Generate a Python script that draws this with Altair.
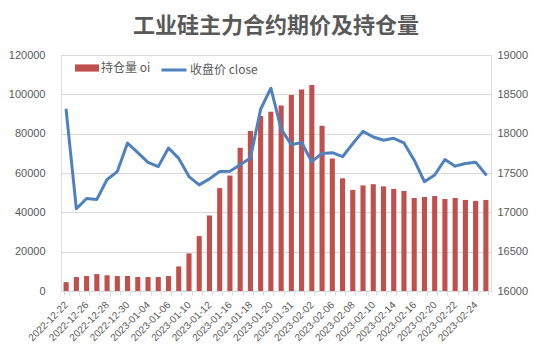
import altair as alt
import pandas as pd

dates = ["2022-12-22", "2022-12-23", "2022-12-26", "2022-12-27", "2022-12-28", "2022-12-29",
         "2022-12-30", "2023-01-03", "2023-01-04", "2023-01-05", "2023-01-06", "2023-01-09",
         "2023-01-10", "2023-01-11", "2023-01-12", "2023-01-13", "2023-01-16", "2023-01-17",
         "2023-01-18", "2023-01-19", "2023-01-20", "2023-01-30", "2023-01-31", "2023-02-01",
         "2023-02-02", "2023-02-03", "2023-02-06", "2023-02-07", "2023-02-08", "2023-02-09",
         "2023-02-10", "2023-02-13", "2023-02-14", "2023-02-15", "2023-02-16", "2023-02-17",
         "2023-02-20", "2023-02-21", "2023-02-22", "2023-02-23", "2023-02-24", "2023-02-27"]

oi = [4500, 7100, 7600, 8600, 8000, 7600, 7600, 7100, 7100, 7100, 7600, 12500,
      19100, 27900, 38400, 52300, 58700, 72800, 81400, 89000, 91200, 94300,
      99600, 102500, 104700, 84000, 67400, 57300, 51400, 53700, 54300, 53200,
      51900, 50900, 47300, 47800, 48300, 46800, 47300, 46300, 45800, 46300]

close = [18302, 17045, 17176, 17164, 17417, 17518, 17880, 17758, 17636, 17581, 17817, 17686,
         17455, 17349, 17425, 17518, 17522, 17606, 17690, 18310, 18578, 18057,
         17859, 17888, 17644, 17749, 17758, 17707, 17874, 18029, 17958, 17916,
         17941, 17882, 17663, 17389, 17474, 17672, 17587, 17621, 17638, 17482]

shown = dates[::2]

df = pd.DataFrame({"date": dates, "oi": oi, "close": close})

grey = "#595959"
font = "Liberation Sans"
cjk = "Noto Sans CJK SC"

label_expr = "indexof(" + str(shown) + ", datum.value) >= 0 ? datum.value : ''"

x_enc = alt.X(
    "date:N",
    sort=dates,
    scale=alt.Scale(paddingInner=0.5, paddingOuter=0.25),
    axis=alt.Axis(
        title=None,
        labelExpr=label_expr,
        labelAngle=-45,
        labelAlign="right",
        labelBaseline="middle",
        labelFontSize=10,
        labelFont=font,
        labelColor=grey,
        labelOverlap=False,
        labelPadding=8,
        tickBand="extent",
        tickSize=4,
        tickColor="#d9d9d9",
        domainColor="#d9d9d9",
        grid=False,
    ),
)

base = alt.Chart(df)

bars = base.mark_bar(color="#C0504D").transform_calculate(s1="'持仓量 oi'").encode(
    x=x_enc,
    y=alt.Y(
        "oi:Q",
        scale=alt.Scale(domain=[0, 120000], nice=False),
        axis=alt.Axis(
            title=None,
            values=[0, 20000, 40000, 60000, 80000, 100000, 120000],
            labelFontSize=11,
            labelFont=font,
            labelColor=grey,
            labelPadding=16,
            ticks=False,
            domain=False,
            gridColor="#d9d9d9",
            format="d",
        ),
    ),
    color=alt.Color(
        "s1:N",
        scale=alt.Scale(domain=["持仓量 oi"], range=["#C0504D"]),
        legend=alt.Legend(
            title=None,
            orient="none",
            legendX=14,
            legendY=1,
            symbolType="M-1,-0.3H1V0.3H-1Z",
            symbolSize=576,
            symbolStrokeWidth=0,
            labelFont=cjk,
            labelFontSize=12,
            labelColor=grey,
            padding=0,
            labelOffset=2,
        ),
    ),
)

line = base.mark_line(strokeWidth=3, strokeJoin="round", strokeCap="round").transform_calculate(
    s2="'收盘价 close'"
).encode(
    x=x_enc,
    y=alt.Y(
        "close:Q",
        scale=alt.Scale(domain=[16000, 19000], nice=False, zero=False),
        axis=alt.Axis(
            title=None,
            orient="right",
            values=[16000, 16500, 17000, 17500, 18000, 18500, 19000],
            labelFontSize=11,
            labelFont=font,
            labelColor=grey,
            labelPadding=6,
            ticks=False,
            domain=False,
            grid=False,
            format="d",
        ),
    ),
    stroke=alt.Stroke(
        "s2:N",
        scale=alt.Scale(domain=["收盘价 close"], range=["#4F81BD"]),
        legend=alt.Legend(
            title=None,
            orient="none",
            legendX=99,
            legendY=1,
            symbolType="stroke",
            symbolSize=625,
            symbolStrokeWidth=3,
            labelFont=cjk,
            labelFontSize=12,
            labelColor=grey,
            padding=0,
            labelOffset=2,
        ),
    ),
)

chart = (
    alt.layer(bars, line)
    .resolve_scale(y="independent")
    .properties(
        width=430,
        height=236,
        autosize=alt.AutoSizeParams(type="none"),
        padding={"left": 53, "top": 47, "right": 51, "bottom": 59},
        title=alt.TitleParams(
            "工业硅主力合约期价及持仓量",
            font=cjk,
            fontSize=22,
            fontWeight="bold",
            color=grey,
            anchor="middle",
            offset=11,
        ),
    )
    .configure_view(stroke=None)
    .configure(background="white")
)

chart.save("out.html", embed_options={"renderer": "svg", "actions": False})
